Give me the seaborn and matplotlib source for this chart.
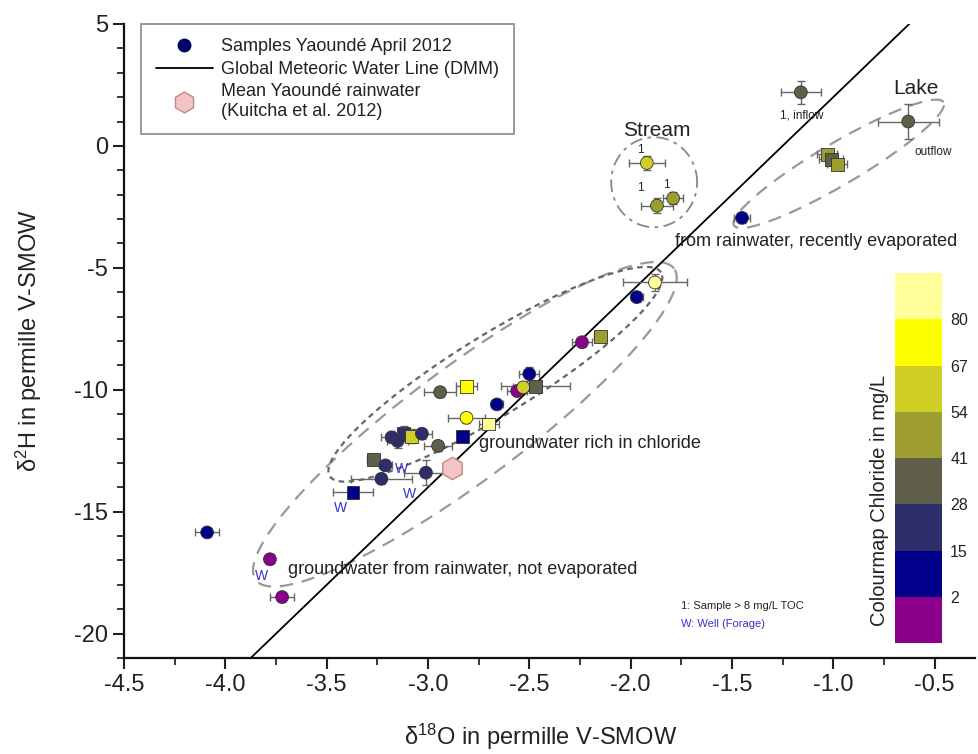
import numpy as np
import pandas as pd
import matplotlib
matplotlib.use("Agg")
import matplotlib.pyplot as plt
import seaborn as sns
from matplotlib.colors import ListedColormap, BoundaryNorm
from matplotlib.lines import Line2D
from matplotlib.ticker import MultipleLocator

sns.set_style("ticks")
plt.rcParams["font.family"] = ["Liberation Sans", "DejaVu Sans"]
plt.rcParams["mathtext.default"] = "regular"
plt.rcParams["axes.unicode_minus"] = False

# samples: d18O, d2H, chloride (mg/L), marker, x error, y error
d18o = [-1.16, -0.63, -1.92, -1.87, -1.79, -1.03, -1.01, -0.98, -1.45, -1.88,
        -1.97, -2.24, -2.15, -2.50, -2.56, -2.53, -2.47, -2.66, -2.81, -2.94,
        -2.81, -2.70, -2.83, -2.95, -3.15, -3.12, -3.08, -3.03, -3.18, -3.27,
        -3.21, -3.23, -3.01, -3.37, -4.09, -3.78, -3.72]
d2h = [2.2, 1.0, -0.7, -2.45, -2.15, -0.35, -0.55, -0.75, -2.95, -5.6,
       -6.2, -8.05, -7.8, -9.35, -10.05, -9.9, -9.85, -10.6, -9.85, -10.1,
       -11.15, -11.4, -11.9, -12.3, -12.1, -11.8, -11.9, -11.8, -11.95, -12.85,
       -13.1, -13.65, -13.4, -14.2, -15.85, -16.95, -18.5]
chloride = [35, 35, 60, 48, 48, 45, 38, 45, 10, 86,
            10, 0, 50, 10, 0, 60, 38, 10, 72, 38,
            72, 86, 10, 35, 20, 22, 62, 22, 18, 30,
            20, 24, 20, 10, 12, 0, 0]
marker = ["o", "o", "o", "o", "o", "s", "s", "s", "o", "o",
          "o", "o", "s", "o", "o", "o", "s", "o", "s", "o",
          "o", "s", "s", "o", "o", "s", "s", "o", "o", "s",
          "o", "o", "o", "s", "o", "o", "o"]
xerr = [0.10, 0.15, 0.09, 0.08, 0.05, 0.05, 0.06, 0.05, 0.04, 0.16,
        0.03, 0.05, 0.03, 0.05, 0.05, 0.05, 0.17, 0.03, 0.05, 0.08,
        0.09, 0.05, 0.02, 0.07, 0.05, 0.05, 0.05, 0.05, 0.05, 0.03,
        0.03, 0.15, 0.11, 0.10, 0.06, 0.02, 0.06]
yerr = [0.47, 0.7, 0.3, 0.3, 0.25, 0.2, 0.2, 0.2, 0.2, 0.35,
        0.2, 0.2, 0.2, 0.3, 0.2, 0.2, 0.2, 0.2, 0.2, 0.2,
        0.2, 0.2, 0.2, 0.2, 0.3, 0.3, 0.3, 0.2, 0.2, 0.2,
        0.2, 0.2, 0.5, 0.2, 0.2, 0.2, 0.2]

rain_x, rain_y = -2.88, -13.2
gmwl_x = np.array([-4.0, -0.6])

cl_bounds = [-11, 2, 15, 28, 41, 54, 67, 80, 93]
cl_ticks = [2, 15, 28, 41, 54, 67, 80]
cl_colors = ["#8b008b", "#00008b", "#2e2e6b", "#5f5f4c",
             "#9e9e30", "#cfcf28", "#ffff00", "#ffff99"]

well_labels = [(-3.13, -13.25), (-3.09, -14.28), (-3.43, -14.85), (-3.82, -17.65)]
one_labels = [(-1.95, -0.18), (-1.95, -1.74), (-1.825, -1.62)]

df = pd.DataFrame({"d18O": d18o, "d2H": d2h, "Cl": chloride, "m": marker})
cmap = ListedColormap(cl_colors)
norm = BoundaryNorm(cl_bounds, cmap.N)

fig = plt.figure(figsize=(9.79, 7.54), dpi=100)
ax = fig.add_axes([0.1267, 0.1273, 0.8693, 0.8409])
ax.set_xlim(-4.5, -0.3)
ax.set_ylim(-21, 5)


def ellipse(p1, p2, half_w, **kw):
    # ellipse between two data points, minor half width in pixels
    a = ax.transData.transform(p1)
    b = ax.transData.transform(p2)
    c = (a + b) / 2
    d = b - a
    L = np.hypot(*d) / 2
    ang = np.arctan2(d[1], d[0])
    t = np.linspace(0, 2 * np.pi, 300)
    pts = np.column_stack([L * np.cos(t), half_w * np.sin(t)])
    rot = np.array([[np.cos(ang), -np.sin(ang)], [np.sin(ang), np.cos(ang)]])
    pts = pts @ rot.T + c
    dd = ax.transData.inverted().transform(pts)
    ax.plot(dd[:, 0], dd[:, 1], **kw)


ellipse((-3.85, -17.8), (-1.786, -5.03), 57, color="#999999", lw=1.6, ls=(0, (6, 4)), zorder=1)
ellipse((-3.485, -13.54), (-1.85, -5.19), 40, color="#666666", lw=1.6, ls=(0, (2.5, 2)), zorder=1)
ellipse((-1.49, -3.26), (-0.456, 1.79), 21, color="#999999", lw=1.6, ls=(0, (6, 4)), zorder=1)
ellipse((-2.096, -1.49), (-1.672, -1.49), 45, color="#888888", lw=1.3, ls=(0, (7, 3, 2, 3)), zorder=1)

ax.plot(gmwl_x, 8 * gmwl_x + 10, color="black", lw=1.3, zorder=2)

ax.errorbar(d18o, d2h, xerr=xerr, yerr=yerr, fmt="none", ecolor="#666666",
            elinewidth=1, capsize=3, capthick=1, zorder=3)
sns.scatterplot(data=df, x="d18O", y="d2H", hue="Cl", style="m",
                markers={"o": "o", "s": "s"}, palette=cmap, hue_norm=norm,
                s=85, edgecolor="#333333", linewidth=0.6, legend=False, ax=ax, zorder=4)
ax.scatter([rain_x], [rain_y], marker="h", s=260, color="#f2c4c4",
           edgecolor="#c08888", linewidth=1, zorder=5)

ax.set_xlabel(r"$\delta^{18}$O in permille V-SMOW", fontsize=17, color="#222222")
ax.set_ylabel(r"$\delta^{2}$H in permille V-SMOW", fontsize=17, labelpad=22, color="#222222")
ax.xaxis.set_label_coords(0.49, -0.10)
ax.set_xticks(np.arange(-4.5, -0.4, 0.5))
ax.set_yticks(np.arange(-20, 6, 5))
ax.xaxis.set_minor_locator(MultipleLocator(0.25))
ax.yaxis.set_minor_locator(MultipleLocator(1))
ax.tick_params(which="major", direction="out", length=8, width=1.5, labelsize=17, colors="#222222")
ax.tick_params(which="minor", direction="out", length=5, width=1.3)
sns.despine(ax=ax)
for sp in ("left", "bottom"):
    ax.spines[sp].set_linewidth(1.6)
    ax.spines[sp].set_color("#111111")

txt = "#222222"
ax.text(-1.87, 0.64, "Stream", fontsize=15, ha="center", va="center", color=txt)
ax.text(-0.594, 2.37, "Lake", fontsize=15, ha="center", va="center", color=txt)
ax.text(-1.155, 1.26, "1, inflow", fontsize=8.5, ha="center", va="center", color=txt)
ax.text(-0.6, -0.26, "outflow", fontsize=8.5, ha="left", va="center", color=txt)
ax.text(-1.78, -3.9, "from rainwater, recently evaporated", fontsize=13, ha="left", va="center", color=txt)
ax.text(-2.75, -12.2, "groundwater rich in chloride", fontsize=13, ha="left", va="center", color=txt)
ax.text(-3.69, -17.36, "groundwater from rainwater, not evaporated", fontsize=13, ha="left", va="center", color=txt)
ax.text(-1.75, -18.88, "1: Sample > 8 mg/L TOC", fontsize=8, ha="left", va="center", color=txt)
ax.text(-1.75, -19.62, "W: Well (Forage)", fontsize=8, ha="left", va="center", color="#3333cc")
for wx, wy in well_labels:
    ax.text(wx, wy, "W", fontsize=10, ha="center", va="center", color="#3333cc")
for ox, oy in one_labels:
    ax.text(ox, oy, "1", fontsize=8.5, ha="center", va="center", color=txt)

handles = [
    Line2D([], [], marker="o", ls="", color="#00006b", markersize=9),
    Line2D([], [], color="black", lw=1.3),
    Line2D([], [], marker="h", ls="", markersize=15, markerfacecolor="#f2c4c4",
           markeredgecolor="#c08888"),
]
labels = ["Samples Yaoundé April 2012", "Global Meteoric Water Line (DMM)",
          "Mean Yaoundé rainwater\n(Kuitcha et al. 2012)"]
leg = ax.legend(handles, labels, loc="upper left", bbox_to_anchor=(0.02, 1.0),
                fontsize=13, frameon=True, fancybox=False, borderpad=0.8,
                handlelength=3.2, handletextpad=0.45, labelspacing=0.3,
                borderaxespad=0)
leg.get_frame().set_edgecolor("#777777")
leg.get_frame().set_linewidth(1.3)
for t in leg.get_texts():
    t.set_color(txt)

cax = fig.add_axes([0.914, 0.147, 0.048, 0.491])
sm = plt.cm.ScalarMappable(norm=norm, cmap=cmap)
cb = fig.colorbar(sm, cax=cax, ticks=cl_ticks)
cb.outline.set_visible(False)
cax.minorticks_off()
cax.tick_params(which="both", length=0, labelsize=11.5, pad=6, colors=txt)
cax.text(-0.32, 0.384, "Colourmap Chloride in mg/L", rotation=90, fontsize=14.5,
         ha="center", va="center", color=txt, transform=cax.transAxes)

fig.savefig("out.png", dpi=100)
